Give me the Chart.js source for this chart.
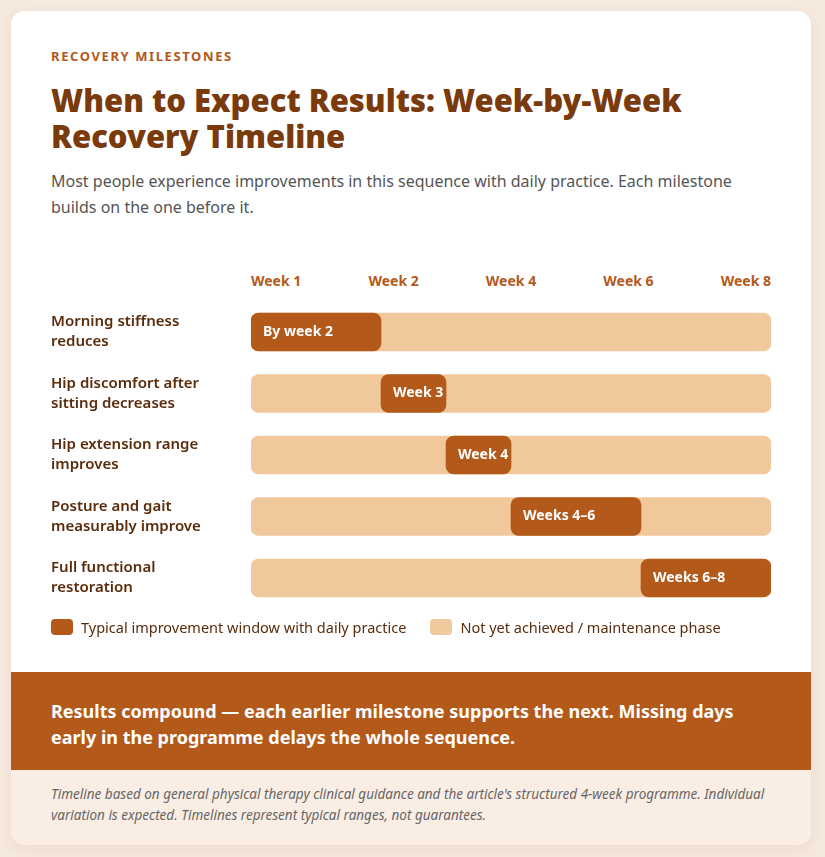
<!DOCTYPE html>
<html>
<head>
<meta charset="utf-8">
<script src="https://cdn.jsdelivr.net/npm/chart.js@4.4.1/dist/chart.umd.min.js"></script>
<style>
  html, body { margin: 0; padding: 0; }
  body {
    background: #f6e9de;
    font-family: "Noto Sans", "Open Sans", sans-serif;
    width: 825px;
    height: 857px;
    overflow: hidden;
  }
  .card {
    position: absolute;
    left: 11px;
    top: 11px;
    width: 800px;
    height: 834px;
    background: #fff;
    border-radius: 14px;
    overflow: hidden;
    box-shadow: 0 4px 14px rgba(120, 60, 20, 0.08);
  }
  .eyebrow {
    position: absolute;
    left: 40px;
    top: 36px;
    font-size: 13px;
    font-weight: 700;
    letter-spacing: 1.6px;
    color: #b5571b;
  }
  h1 {
    position: absolute;
    left: 40px;
    top: 71px;
    margin: 0;
    width: 720px;
    font-size: 31px;
    line-height: 36px;
    font-weight: 900;
    color: #7a3a0c;
  }
  .sub {
    position: absolute;
    left: 40px;
    top: 157px;
    width: 720px;
    margin: 0;
    font-size: 16px;
    line-height: 26px;
    color: #555;
  }
  .weeks {
    position: absolute;
    left: 240px;
    top: 260px;
    width: 520px;
    display: flex;
    justify-content: space-between;
    font-size: 14px;
    font-weight: 700;
    color: #b35a1a;
  }
  .chart-box {
    position: absolute;
    left: 40px;
    top: 270px;
    width: 720px;
    height: 348px;
  }
  .legend {
    position: absolute;
    left: 40px;
    top: 606px;
    display: flex;
    gap: 24px;
    font-size: 14.5px;
    color: #5a2c0c;
  }
  .legend span { display: flex; align-items: center; }
  .legend i {
    display: inline-block;
    width: 22px;
    height: 16px;
    border-radius: 4px;
    margin-right: 8px;
  }
  .band {
    position: absolute;
    left: 0;
    top: 661px;
    width: 800px;
    height: 98px;
    background: #b3591a;
    box-sizing: border-box;
    padding: 26px 40px 0 40px;
    font-size: 18px;
    line-height: 26px;
    font-weight: 700;
    color: #fff;
  }
  .foot {
    position: absolute;
    left: 0;
    top: 759px;
    width: 800px;
    height: 75px;
    background: #faeee4;
    box-sizing: border-box;
    padding: 14px 40px 0 40px;
    font-size: 13.5px;
    line-height: 21px;
    font-style: italic;
    color: #666;
  }
</style>
</head>
<body>
<div class="card">
  <div class="eyebrow">RECOVERY MILESTONES</div>
  <h1>When to Expect Results: Week-by-Week Recovery Timeline</h1>
  <p class="sub">Most people experience improvements in this sequence with daily practice. Each milestone builds on the one before it.</p>
  <div class="weeks" id="weeks"></div>
  <div class="chart-box"><canvas id="timeline"></canvas></div>
  <div class="legend" id="legend"></div>
  <div class="band">Results compound — each earlier milestone supports the next. Missing days early in the programme delays the whole sequence.</div>
  <div class="foot">Timeline based on general physical therapy clinical guidance and the article's structured 4-week programme. Individual variation is expected. Timelines represent typical ranges, not guarantees.</div>
</div>

<script>
// milestone rows
const milestones = [
  ["Morning stiffness", "reduces"],
  ["Hip discomfort after", "sitting decreases"],
  ["Hip extension range", "improves"],
  ["Posture and gait", "measurably improve"],
  ["Full functional", "restoration"],
];
// improvement window, in weeks from start
const windowStart = [0, 2, 3, 4, 6];
const windowEnd = [2, 3, 4, 6, 8];
const windowLabels = ["By week 2", "Week 3", "Week 4", "Weeks 4–6", "Weeks 6–8"];
const timelineEnd = 8;
const weekLabels = ["Week 1", "Week 2", "Week 4", "Week 6", "Week 8"];
const legendLabels = ["Typical improvement window with daily practice", "Not yet achieved / maintenance phase"];

const dark = "#b35a1a";
const light = "#f0c89b";

const weeksRow = document.getElementById("weeks");
weekLabels.forEach((w) => {
  const s = document.createElement("span");
  s.textContent = w;
  weeksRow.appendChild(s);
});

const legend = document.getElementById("legend");
[dark, light].forEach((c, i) => {
  const s = document.createElement("span");
  s.innerHTML = '<i style="background:' + c + '"></i>' + legendLabels[i];
  legend.appendChild(s);
});

// writes the window text inside each dark bar
const barText = {
  id: "barText",
  afterDatasetsDraw(chart) {
    const ctx = chart.ctx;
    const meta = chart.getDatasetMeta(0);
    ctx.save();
    ctx.fillStyle = "#fff";
    ctx.font = "700 14px 'Noto Sans', sans-serif";
    ctx.textBaseline = "middle";
    meta.data.forEach((bar, i) => {
      const left = Math.min(bar.x, bar.base);
      ctx.fillText(windowLabels[i], left + 12, bar.y);
    });
    ctx.restore();
  },
};

const ctx = document.getElementById("timeline");
if (ctx) {
  new Chart(ctx, {
    type: "bar",
    data: {
      labels: milestones,
      datasets: [
        {
          label: legendLabels[0],
          data: windowStart.map((s, i) => [s, windowEnd[i]]),
          backgroundColor: dark,
          borderRadius: 8,
          borderSkipped: false,
          barThickness: 38,
        },
        {
          label: legendLabels[1],
          data: milestones.map(() => [0, timelineEnd]),
          backgroundColor: light,
          borderRadius: 8,
          borderSkipped: false,
          barThickness: 38,
        },
      ],
    },
    options: {
      indexAxis: "y",
      responsive: true,
      maintainAspectRatio: false,
      animation: false,
      layout: { padding: 0 },
      plugins: {
        legend: { display: false },
        tooltip: { enabled: false },
      },
      scales: {
        x: {
          display: false,
          min: 0,
          max: timelineEnd,
        },
        y: {
          stacked: false,
          grid: { display: false },
          border: { display: false },
          afterFit: (scale) => {
            scale.width = 200;
          },
          ticks: {
            crossAlign: "far",
            padding: 0,
            color: "#5a2c0c",
            font: { family: "'Noto Sans', sans-serif", size: 15, weight: "600", lineHeight: 1.35 },
          },
        },
      },
      datasets: { bar: { grouped: false } },
    },
    plugins: [barText],
  });
}
</script>
</body>
</html>
